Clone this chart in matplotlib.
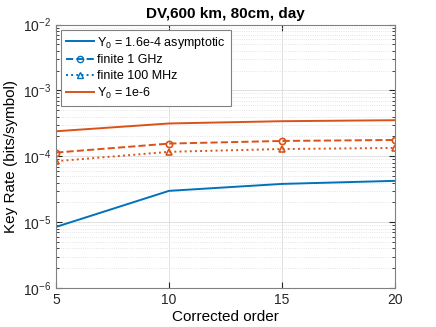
import numpy as np
import matplotlib
matplotlib.use('Agg')
import matplotlib.pyplot as plt
from matplotlib.lines import Line2D

plt.rcParams['font.family'] = ['Liberation Sans', 'DejaVu Sans']
plt.rcParams['mathtext.fontset'] = 'custom'
plt.rcParams['mathtext.rm'] = 'Liberation Sans'

order = [5, 10, 15, 20]
asym_16e4 = [8.5e-6, 2.99e-5, 3.81e-5, 4.24e-5]
finite_1ghz = [1.14e-4, 1.56e-4, 1.71e-4, 1.77e-4]
finite_100mhz = [8.43e-5, 1.17e-4, 1.29e-4, 1.34e-4]
asym_1e6 = [2.40e-4, 3.15e-4, 3.41e-4, 3.53e-4]

blue = '#0072BD'
orange = '#D95319'
axcol = '#262626'

fig = plt.figure(figsize=(4.36, 3.27), dpi=100)
ax = fig.add_axes([0.129, 0.119, 0.776, 0.806])

ax.plot(order, asym_16e4, '-', color=blue, lw=1.4)
ax.plot(order, finite_1ghz, '--', color=orange, lw=1.4, marker='o',
        ms=4.5, mfc='none', mew=1.2)
ax.plot(order, finite_100mhz, ':', color=orange, lw=1.4, marker='^',
        ms=4.5, mfc='none', mew=1.2)
ax.plot(order, asym_1e6, '-', color=orange, lw=1.4)

ax.set_yscale('log')
ax.set_xlim(5, 20)
ax.set_ylim(1e-6, 1e-2)
ax.set_xticks([5, 10, 15, 20])

# matlab-ish grid
ax.grid(True, which='major', color='#dcdcdc', lw=0.6)
ax.grid(True, which='minor', axis='y', color='#dcdcdc', lw=0.6, ls=':')
ax.set_axisbelow(True)
ax.tick_params(which='both', direction='in', top=True, right=True,
               colors=axcol, labelsize=10)
ax.tick_params(which='major', length=4)
ax.tick_params(which='minor', length=2)
for s in ax.spines.values():
    s.set_color('#808080')
    s.set_linewidth(0.8)

ax.set_title('DV,600 km, 80cm, day', fontsize=11, fontweight='bold', pad=5)
ax.set_xlabel('Corrected order', fontsize=11, labelpad=2)
ax.set_ylabel('Key Rate (bits/symbol)', fontsize=11, labelpad=4)

# legend handles as they appear in the figure
handles = [
    Line2D([], [], color=blue, lw=1.4, ls='-'),
    Line2D([], [], color=blue, lw=1.4, ls='--', marker='o', ms=4.5, mfc='none'),
    Line2D([], [], color=blue, lw=1.4, ls=':', marker='^', ms=4.5, mfc='none'),
    Line2D([], [], color=orange, lw=1.4, ls='-'),
]
labels = ['Y$_0$ = 1.6e-4 asymptotic', 'finite 1 GHz', 'finite 100 MHz',
          'Y$_0$ = 1e-6']
leg = ax.legend(handles, labels, loc='upper left', fontsize=9, fancybox=False,
                framealpha=1, edgecolor='#808080', handlelength=2.2,
                handletextpad=0.3, borderpad=0.4, labelspacing=0.3,
                borderaxespad=0.4)
leg.get_frame().set_linewidth(0.8)

fig.savefig('out.png', dpi=100)
